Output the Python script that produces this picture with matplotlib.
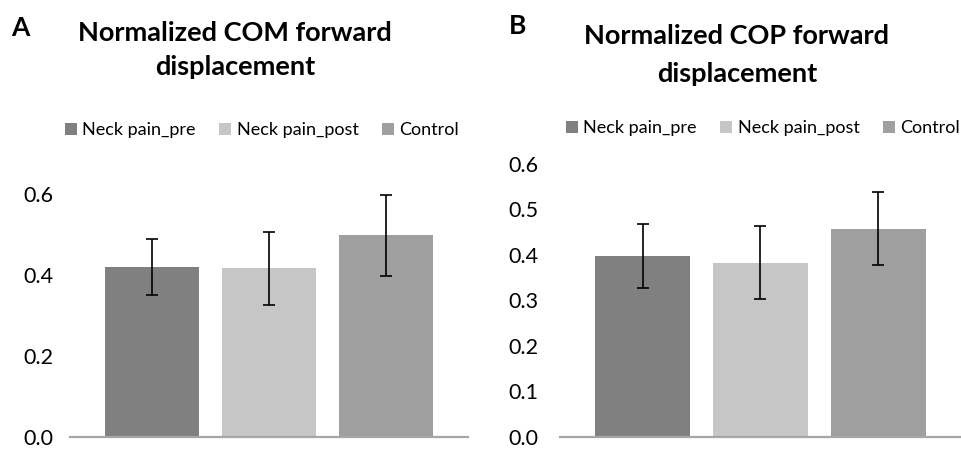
import matplotlib
matplotlib.use('Agg')
import matplotlib.pyplot as plt

plt.rcParams['font.family'] = ['Lato', 'DejaVu Sans']

groups = ['Neck pain_pre', 'Neck pain_post', 'Control']
colors = ['#808080', '#C6C6C6', '#9F9F9F']

com_mean = [0.420, 0.417, 0.498]
com_err = [0.070, 0.090, 0.100]

cop_mean = [0.397, 0.382, 0.457]
cop_err = [0.070, 0.080, 0.080]

fig = plt.figure(figsize=(9.62, 4.5), dpi=100)

W, H = 962.0, 450.0


def panel(rect, means, errs, ticks, letter, letter_xy, titles, title_x, title_y, leg_xy, pad):
    ax = fig.add_axes(rect)
    x = range(len(groups))
    for i in x:
        ax.bar(i, means[i], width=0.8, color=colors[i], label=groups[i], zorder=2)
        ax.errorbar(i, means[i], yerr=errs[i], fmt='none', ecolor='black',
                    elinewidth=1.2, capsize=4, capthick=1.2, zorder=3, clip_on=False)
    ax.set_xlim(-0.70, 2.70)
    ax.set_ylim(0, ticks[-1])
    ax.set_yticks(ticks)
    ax.set_yticklabels(['%.1f' % t for t in ticks])
    ax.set_xticks([])
    ax.tick_params(axis='y', length=0, pad=pad, labelsize=15.5)
    for s in ['top', 'right', 'left']:
        ax.spines[s].set_visible(False)
    ax.spines['bottom'].set_color('#A6A6A6')
    ax.spines['bottom'].set_linewidth(1.6)
    fig.text(letter_xy[0] / W, 1 - letter_xy[1] / H, letter, fontsize=19,
             fontweight='bold', ha='left', va='center')
    # two-line title, each line on its own baseline
    for line, y in zip(titles, title_y):
        fig.text(title_x / W, 1 - y / H, line, fontsize=19.5,
                 fontweight='bold', ha='center', va='baseline')
    ax.legend(loc='center', bbox_to_anchor=(leg_xy[0] / W, 1 - leg_xy[1] / H),
              bbox_transform=fig.transFigure, ncol=3, frameon=False,
              fontsize=13, handlelength=0.65, handleheight=0.65,
              handletextpad=0.3, columnspacing=1.3, borderpad=0)
    return ax


panel([70 / W, 13 / H, 398 / W, 243 / H], com_mean, com_err,
      [0.0, 0.2, 0.4, 0.6], 'A', (11, 28),
      ['Normalized COM forward', 'displacement'], 235, (41, 75), (262, 130), 12)

panel([560 / W, 13 / H, 401 / W, 273.5 / H], cop_mean, cop_err,
      [0.0, 0.1, 0.2, 0.3, 0.4, 0.5, 0.6], 'B', (509, 26),
      ['Normalized COP forward', 'displacement'], 737, (43.5, 82), (763, 128), 15.5)

fig.savefig('out.png', dpi=100)
